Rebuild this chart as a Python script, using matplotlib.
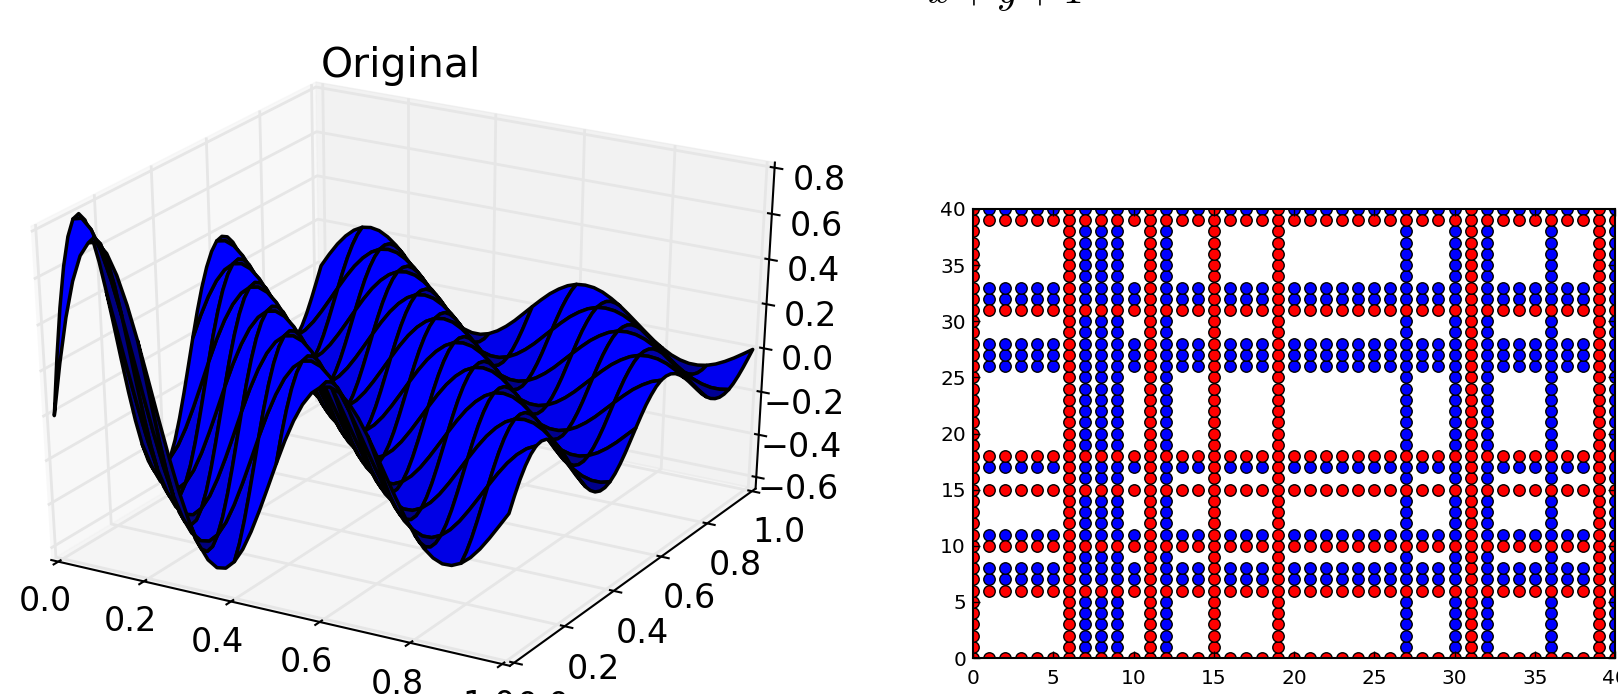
import numpy as np
import matplotlib
matplotlib.use("Agg")
import matplotlib.pyplot as plt

# surface height, going along x+y in steps of 1/50
# (the ridges run straight across the square, so one profile is enough)
height_profile = [
    0.000, 0.239, 0.445, 0.609, 0.724, 0.786, 0.796, 0.756, 0.672, 0.553,
    0.408, 0.247, 0.081, -0.079, -0.225, -0.348, -0.442, -0.504, -0.531, -0.524,
    -0.485, -0.419, -0.330, -0.226, -0.114, 0.000, 0.108, 0.203, 0.281, 0.338,
    0.372, 0.380, 0.365, 0.328, 0.273, 0.203, 0.124, 0.041, -0.040, -0.116,
    -0.181, -0.233, -0.267, -0.284, -0.282, -0.263, -0.229, -0.182, -0.125, -0.063,
    0.000, 0.061, 0.116, 0.161, 0.195, 0.216, 0.222, 0.215, 0.194, 0.162,
    0.121, 0.075, 0.025, -0.025, -0.071, -0.111, -0.143, -0.165, -0.176, -0.176,
    -0.165, -0.144, -0.115, -0.080, -0.040, 0.000, 0.039, 0.075, 0.104, 0.127,
    0.141, 0.145, 0.141, 0.128, 0.107, 0.081, 0.050, 0.017, -0.016, -0.048,
    -0.075, -0.097, -0.112, -0.120, -0.120, -0.113, -0.099, -0.079, -0.055, -0.028,
    0.000,
]
surface_ticks = [0.0, 0.2, 0.4, 0.6, 0.8, 1.0]
height_ticks = [-0.6, -0.4, -0.2, 0.0, 0.2, 0.4, 0.6, 0.8]

# lines of dots in the right panel
red_columns = [0, 6, 11, 15, 19, 31, 39]
red_rows = [0, 6, 10, 15, 18, 31, 39]
blue_columns = [7, 8, 9, 12, 27, 30, 32, 36, 40]
blue_rows = [7, 8, 11, 17, 26, 27, 28, 32, 33, 40]
grid_ticks = [0, 5, 10, 15, 20, 25, 30, 35, 40]

W, H = 1618, 694
plt.rcParams["grid.color"] = "#e6e6e6"
plt.rcParams["grid.linewidth"] = 2.0
plt.rcParams["axes.linewidth"] = 1.5
plt.rcParams["xtick.major.width"] = 1.5
plt.rcParams["ytick.major.width"] = 1.5

fig = plt.figure(figsize=(W / 100, H / 100), dpi=100)

# left panel, box not forced square so the floor looks flatter
Sx, Sy = 909, 637
cx, cy = 397, 372
ax = fig.add_axes([(cx - Sx / 2) / W, 1 - (cy + Sy / 2) / H, Sx / W, Sy / H], projection="3d")
ax.apply_aspect = lambda position=None: None
ax.patch.set_alpha(0)
ax.set_box_aspect((1, 1, 1.025), zoom=0.988)

n = (len(height_profile) + 1) // 2
grid = np.linspace(0, 1, n)
X, Y = np.meshgrid(grid, grid)
I, J = np.meshgrid(np.arange(n), np.arange(n))
Z = np.array(height_profile)[I + J]

step = 5
surf = ax.plot_surface(X, Y, Z, rstride=step, cstride=step, color="b", shade=False,
                       edgecolor="k", linewidth=2.5)

# face colours, old style shading from three points on each patch outline
shade = []
for r in range(0, n - 1, step):
    for c in range(0, n - 1, step):
        p = [np.array([X[a, b], Y[a, b], Z[a, b]]) for a, b in
             [(r, c), (r + 1, c + step), (r + step, c + 2)]]
        nrm = np.cross(p[0] - p[1], p[1] - p[2])
        shade.append(np.dot(nrm / np.linalg.norm(nrm), [-1, -1, 0.5]))
shade = np.array(shade)
level = 0.5 + 0.75 * (shade - shade.min()) / (shade.max() - shade.min())
level = np.clip(level, 0.5, 1.0)
surf.set_facecolor([(0, 0, v, 1) for v in level])

ax.set_xlim(-0.0165, 1.0165)
ax.set_ylim(-0.0165, 1.0165)
ax.set_zlim(-0.655, 0.822)
ax.set_xticks(surface_ticks)
ax.set_yticks(surface_ticks)
ax.set_zticks(height_ticks)
ax.tick_params(labelsize=24)
ax.tick_params(axis="x", pad=6)
ax.tick_params(axis="y", pad=10)
ax.tick_params(axis="z", pad=10)

fig.text(401 / W, 1 - 76.5 / H, "Original", fontsize=29.5, ha="center", va="baseline")

plt.rcParams["mathtext.fontset"] = "cm"
fig.text(1005 / W, 1 - 3 / H, r"$x + y + 1$", fontsize=29.5, ha="center", va="baseline")

# right panel
ax2 = fig.add_axes([973 / W, 1 - 658 / H, (1615 - 973) / W, (658 - 209) / H])
bx, by, rx, ry = [], [], [], []
for i in range(41):
    for j in range(41):
        if i in red_columns or j in red_rows:
            rx.append(i)
            ry.append(j)
        elif i in blue_columns or j in blue_rows:
            bx.append(i)
            by.append(j)
ax2.scatter(bx, by, s=68, c="b", edgecolors="k", linewidths=1.0)
ax2.scatter(rx, ry, s=68, c="r", edgecolors="k", linewidths=1.0)
ax2.set_xlim(0, 40)
ax2.set_ylim(0, 40)
ax2.set_xticks(grid_ticks)
ax2.set_yticks(grid_ticks)
ax2.tick_params(direction="in", top=True, right=True, length=5, width=1, labelsize=14.5, pad=5)
ax2.tick_params(axis="x", pad=8)

fig.savefig("out.png", dpi=100)
